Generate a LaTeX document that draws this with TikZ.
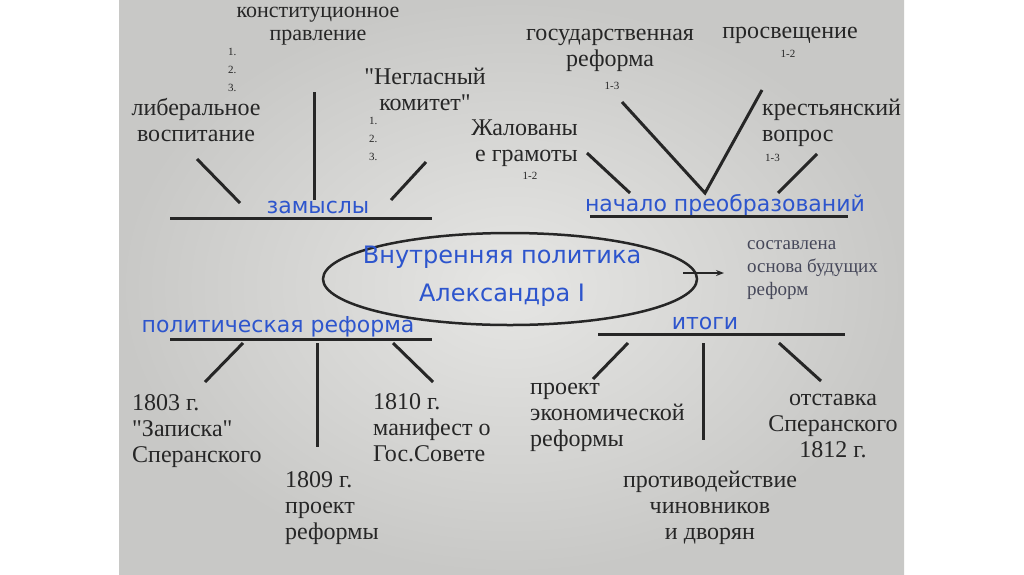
\documentclass[tikz,border=0pt]{standalone}
\usepackage{fontspec}
\setmainfont{Liberation Serif}[Ligatures=TeXOff]
\newfontfamily\headfont{DejaVu Sans}
\usetikzlibrary{arrows.meta,positioning,shapes.geometric}
\definecolor{ink}{RGB}{38,38,38}
\definecolor{blu}{RGB}{45,85,205}
\definecolor{note}{RGB}{70,72,90}
\definecolor{photo}{RGB}{230,230,228}
\definecolor{photoedge}{RGB}{200,200,198}
\tikzset{
  lbl/.style={text=ink,inner sep=0pt,align=center,font=\fontsize{24}{26}\selectfont},
  lblL/.style={lbl,align=left},
  nums/.style={text=ink,inner sep=0pt,align=left,font=\fontsize{11}{18}\selectfont},
  head/.style={text=blu,inner sep=0pt,font=\headfont\fontsize{22}{38}\selectfont},
  bar/.style={line width=3pt,ink},
  arr/.style={-{Stealth[length=8pt,width=6pt]},line width=2pt,ink},
}

\begin{document}
\begin{tikzpicture}[x=1pt,y=-1pt]
  \useasboundingbox (0,0) rectangle (1024,574);
  \fill[white] (0,0) rectangle (1024,574);
  \shade[inner color=photo,outer color=photoedge] (119,0) rectangle (904,574);

  % centre
  \node[draw=ink,line width=2.5pt,ellipse,minimum width=374pt,minimum height=92pt] (ell) at (510,279) {};
  \node[head,align=center,font=\headfont\fontsize{24}{38}\selectfont] (polit) at (502,276) {Внутренняя политика\\Александра I};
  \node[lblL,text=note,font=\fontsize{19}{23}\selectfont,anchor=west] (osn) at (747,270) {составлена\\основа будущих\\реформ};
  \draw[arr] ([xshift=-15pt,yshift=6pt]ell.east) -- ([xshift=-23pt,yshift=-3pt]osn.west);

  % замыслы
  \node[lbl,font=\fontsize{22}{23}\selectfont] (konst) at (318,26) {конституционное\\правление};
  \node[nums,anchor=west] (knum) at (228,70) {1.\\2.\\3.};
  \node[lbl] (liber) at (196,120) {либеральное\\воспитание};
  \node[lbl] (negl) at (425,89) {"Негласный\\комитет"};
  \node[nums,anchor=west] (nnum) at (369,139) {1.\\2.\\3.};
  \node[head] (zam) at (318,207) {замыслы};
  \coordinate (zamL) at (170,218); \coordinate (zamR) at (432,218);
  \coordinate (z1) at (197,159); \coordinate (z1e) at (240,203);
  \coordinate (z2) at (314,92);  \coordinate (z2e) at (314,200);
  \coordinate (z3) at (426,162); \coordinate (z3e) at (391,200);
  \draw[bar] (zamL) -- (zamR);
  \draw[bar] (z1) -- (z1e); \draw[bar] (z2) -- (z2e); \draw[bar] (z3) -- (z3e);

  % начало преобразований
  \node[lbl] (gos) at (610,50) {государственная\\реформа};
  \node[nums] (gosn) at (612,86) {1-3};
  \node[lbl] (prosv) at (790,35) {просвещение};
  \node[nums] (prosvn) at (788,54) {1-2};
  \node[lblL,anchor=west] (krest) at (762,123) {крестьянский\\вопрос};
  \node[nums,anchor=west] (krestn) at (765,158) {1-3};
  \node[lbl,align=right,anchor=east] (zhal) at (578,143) {Жалованы\\е грамоты};
  \node[nums] (zhaln) at (530,176) {1-2};
  \node[head] (nach) at (725,205) {начало преобразований};
  \coordinate (nachL) at (590,216); \coordinate (nachR) at (848,216);
  \coordinate (n1) at (587,153); \coordinate (n1e) at (630,193);
  \coordinate (n2) at (622,102); \coordinate (nv) at (705,193);
  \coordinate (n3) at (762,90);
  \coordinate (n4) at (817,154); \coordinate (n4e) at (778,193);
  \draw[bar] (nachL) -- (nachR);
  \draw[bar] (n1) -- (n1e); \draw[bar] (n2) -- (nv) -- (n3); \draw[bar] (n4) -- (n4e);

  % политическая реформа
  \node[head] (polr) at (278,327) {политическая реформа};
  \coordinate (polL) at (170,339); \coordinate (polR) at (432,339);
  \coordinate (p1) at (243,343); \coordinate (p1e) at (205,382);
  \coordinate (p2) at (317,343); \coordinate (p2e) at (317,447);
  \coordinate (p3) at (393,343); \coordinate (p3e) at (433,382);
  \draw[bar] (polL) -- (polR);
  \draw[bar] (p1) -- (p1e); \draw[bar] (p2) -- (p2e); \draw[bar] (p3) -- (p3e);
  \node[lblL,anchor=west] (zap) at (132,431) {1803 г.\\"Записка"\\Сперанского};
  \node[lblL,anchor=west] (proj) at (285,508) {1809 г.\\проект\\реформы};
  \node[lblL,anchor=west] (manif) at (373,428) {1810 г.\\манифест о\\Гос.Совете};

  % итоги
  \node[head] (itog) at (705,323) {итоги};
  \coordinate (itL) at (598,334); \coordinate (itR) at (845,334);
  \coordinate (i1) at (628,343); \coordinate (i1e) at (593,379);
  \coordinate (i2) at (703,343); \coordinate (i2e) at (703,440);
  \coordinate (i3) at (779,343); \coordinate (i3e) at (821,381);
  \draw[bar] (itL) -- (itR);
  \draw[bar] (i1) -- (i1e); \draw[bar] (i2) -- (i2e); \draw[bar] (i3) -- (i3e);
  \node[lblL,anchor=west] (econ) at (530,417) {проект\\экономической\\реформы};
  \node[lbl] (otst) at (833,426) {отставка\\Сперанского\\1812 г.};
  \node[lbl] (protiv) at (710,508) {противодействие\\чиновников\\и дворян};
\end{tikzpicture}
\end{document}
